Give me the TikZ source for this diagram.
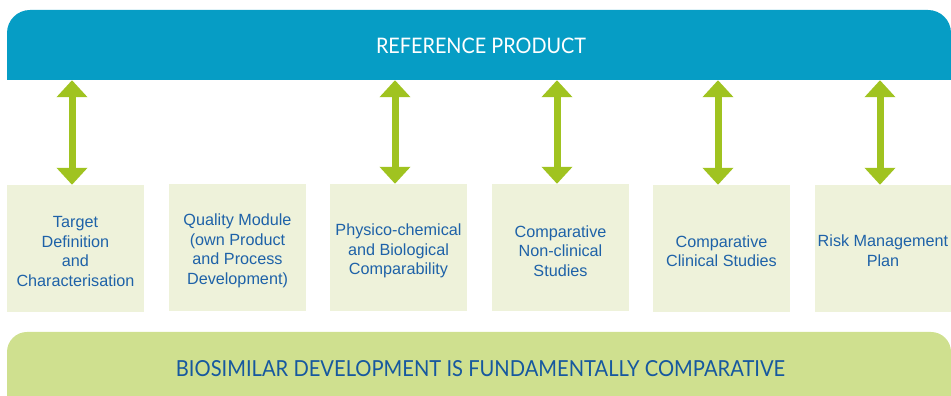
\documentclass[tikz,border=0pt]{standalone}
\usepackage{fontspec}
\setmainfont{Liberation Sans}
\newfontfamily\headfont{Lato}
\usetikzlibrary{arrows.meta}
\definecolor{topblue}{HTML}{069DC5}
\definecolor{arrowgreen}{HTML}{A0C320}
\definecolor{boxfill}{HTML}{EEF2DA}
\definecolor{botgreen}{HTML}{CFE08F}
\definecolor{boxtext}{HTML}{1E62A8}
\definecolor{bottext}{HTML}{16589F}
\begin{document}
\begin{tikzpicture}[x=1pt,y=1pt,
  stagebox/.style={fill=boxfill, minimum width=137pt, minimum height=127pt, inner sep=0pt},
  stagetext/.style={text=boxtext, align=center, inner sep=0pt,
    font=\fontsize{16.2}{19.5}\selectfont},
  biarrow/.style={draw=arrowgreen, line width=7pt,
    {Triangle[width=30pt,length=17pt]}-{Triangle[width=30pt,length=17pt]}}]
\clip (0,0) rectangle (951,396);
% top bar
\fill[topblue] (7,316) -- (7,363) arc[start angle=180,end angle=90,radius=23]
  -- (928,386) arc[start angle=90,end angle=0,radius=23] -- (951,316) -- cycle;
\node[minimum width=944pt, minimum height=70pt, inner sep=0pt] (top) at (479,351) {};
\node[inner sep=0pt, text=white] (toplabel) at (481,350.5)
  {\resizebox{210pt}{15.5pt}{\headfont REFERENCE PRODUCT}};
% bottom bar
\fill[botgreen] (7,-10) -- (7,44) arc[start angle=180,end angle=90,radius=20]
  -- (931,64) arc[start angle=90,end angle=0,radius=20] -- (951,-10) -- cycle;
\node[inner sep=0pt, text=bottext] (botlabel) at (480.5,27)
  {\resizebox{609pt}{16pt}{\headfont BIOSIMILAR DEVELOPMENT IS FUNDAMENTALLY COMPARATIVE}};
% boxes
\node[stagebox] (b1) at (75.5,147.5) {};
\node[stagebox] (b2) at (237.5,148.5) {};
\node[stagebox] (b3) at (398.5,148.5) {};
\node[stagebox] (b4) at (560.5,148.5) {};
\node[stagebox] (b5) at (721.5,147.5) {};
\node[stagebox] (b6) at (883.5,147.5) {};
\node[stagetext] (t1) at (75.5,144.5) {Target\\Definition\\and\\Characterisation};
\node[stagetext] (t2) at (237.5,145) {Quality Module\\(own Product\\and Process\\Development)};
\node[stagetext] (t3) at (398.5,145) {Physico-chemical\\and Biological\\Comparability};
\node[stagetext] (t4) at (560.5,145) {Comparative\\Non-clinical\\Studies};
\node[stagetext] (t5) at (721.5,145) {Comparative\\Clinical Studies};
\node[stagetext] (t6) at (883,145.5) {Risk Management\\Plan};
% arrows
\foreach \b in {b1,b3,b4,b5,b6}{
  \draw[biarrow] ([xshift=-3.5pt]\b.north) -- ([xshift=-3.5pt]\b.north |- top.south);
}
\end{tikzpicture}
\end{document}
